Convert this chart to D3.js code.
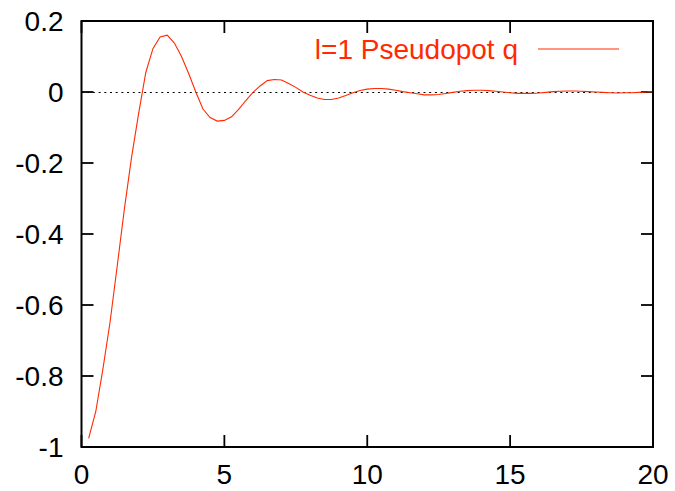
<!DOCTYPE html>
<html>
<head>
<meta charset="utf-8">
<script src="https://cdn.jsdelivr.net/npm/d3@7"></script>
<style>
  body { margin: 0; background: #fff; }
  text { font-family: "Liberation Sans", Arial, sans-serif; }
</style>
</head>
<body>
<script>
// q values (x) and pseudopotential (y)
var qValues = [
  0.25, 0.5, 0.75, 1.0, 1.25, 1.5, 1.75, 2.0, 2.25, 2.5, 2.75, 3.0,
  3.25, 3.5, 3.75, 4.0, 4.25, 4.5, 4.75, 5.0, 5.25, 5.5, 5.75, 6.0,
  6.25, 6.5, 6.75, 7.0, 7.25, 7.5, 7.75, 8.0, 8.25, 8.5, 8.75, 9.0,
  9.25, 9.5, 9.75, 10.0, 10.25, 10.5, 10.75, 11.0, 11.25, 11.5, 11.75, 12.0,
  12.25, 12.5, 12.75, 13.0, 13.25, 13.5, 13.75, 14.0, 14.25, 14.5, 14.75, 15.0,
  15.25, 15.5, 15.75, 16.0, 16.25, 16.5, 16.75, 17.0, 17.25, 17.5, 17.75, 18.0,
  18.25, 18.5, 18.75, 19.0, 19.25, 19.5, 19.75, 20.0
];
var potValues = [
  -0.976, -0.900, -0.780, -0.648, -0.490, -0.330, -0.185, -0.060, 0.055, 0.122, 0.155, 0.160,
  0.138, 0.100, 0.052, 0.000, -0.048, -0.072, -0.082, -0.080, -0.070, -0.049, -0.024, -0.001,
  0.017, 0.032, 0.035, 0.034, 0.024, 0.013, 0.000, -0.009, -0.017, -0.021, -0.021, -0.017,
  -0.010, -0.002, 0.004, 0.008, 0.010, 0.010, 0.008, 0.005, 0.001, -0.002, -0.005, -0.008,
  -0.008, -0.007, -0.004, -0.001, 0.002, 0.004, 0.005, 0.005, 0.004, 0.002, 0.000, -0.002,
  -0.004, -0.004, -0.004, -0.003, -0.001, 0.001, 0.002, 0.003, 0.003, 0.002, 0.001, 0.000,
  -0.001, -0.002, -0.003, -0.002, -0.002, -0.001, 0.000, 0.001
];
var xTicks = [0, 5, 10, 15, 20];
var yTicks = [0.2, 0, -0.2, -0.4, -0.6, -0.8, -1];
var seriesName = "l=1 Pseudopot q";

var width = 675, height = 491;
var margin = {top: 21, right: 22, bottom: 44, left: 81.5};
var red = "#ff2a00";
var tickLen = 12;
var fontSize = "28px";

var svg = d3.select("body").append("svg")
    .attr("width", width)
    .attr("height", height);

var x = d3.scaleLinear().domain([0, 20]).range([margin.left, width - margin.right]);
var y = d3.scaleLinear().domain([-1, 0.2]).range([height - margin.bottom, margin.top]);

// zero line
svg.append("line")
    .attr("x1", x(0)).attr("x2", x(20))
    .attr("y1", y(0) + 0.5).attr("y2", y(0) + 0.5)
    .attr("stroke", "#000")
    .attr("stroke-width", 1)
    .attr("stroke-dasharray", "2,3.7");

// ticks (inward, mirrored)
xTicks.forEach(function(t) {
    svg.append("line")
        .attr("x1", x(t)).attr("x2", x(t))
        .attr("y1", y(-1)).attr("y2", y(-1) - tickLen)
        .attr("stroke", "#000").attr("stroke-width", 1.8);
    svg.append("line")
        .attr("x1", x(t)).attr("x2", x(t))
        .attr("y1", y(0.2)).attr("y2", y(0.2) + tickLen)
        .attr("stroke", "#000").attr("stroke-width", 1.8);
    svg.append("text")
        .attr("x", x(t))
        .attr("y", y(-1) + 37)
        .attr("text-anchor", "middle")
        .style("font-size", fontSize)
        .text(t);
});

yTicks.forEach(function(t) {
    svg.append("line")
        .attr("x1", x(0)).attr("x2", x(0) + tickLen)
        .attr("y1", y(t)).attr("y2", y(t))
        .attr("stroke", "#000").attr("stroke-width", 1.8);
    svg.append("line")
        .attr("x1", x(20)).attr("x2", x(20) - tickLen)
        .attr("y1", y(t)).attr("y2", y(t))
        .attr("stroke", "#000").attr("stroke-width", 1.8);
    svg.append("text")
        .attr("x", x(0) - 18)
        .attr("y", y(t) + 10)
        .attr("text-anchor", "end")
        .style("font-size", fontSize)
        .text(t);
});

// curve
var line = d3.line()
    .x(function(d, i) { return x(qValues[i]); })
    .y(function(d) { return y(d); });

svg.append("path")
    .datum(potValues)
    .attr("d", line)
    .attr("fill", "none")
    .attr("stroke", red)
    .attr("stroke-width", 1.1);

// border
svg.append("rect")
    .attr("x", x(0)).attr("y", y(0.2))
    .attr("width", x(20) - x(0))
    .attr("height", y(-1) - y(0.2))
    .attr("fill", "none")
    .attr("stroke", "#000")
    .attr("stroke-width", 2);

// legend
svg.append("text")
    .attr("x", 518)
    .attr("y", 59)
    .attr("text-anchor", "end")
    .style("font-size", fontSize)
    .style("fill", red)
    .text(seriesName);

svg.append("line")
    .attr("x1", 538).attr("x2", 619)
    .attr("y1", 49).attr("y2", 49)
    .attr("stroke", red)
    .attr("stroke-width", 1.1);
</script>
</body>
</html>
